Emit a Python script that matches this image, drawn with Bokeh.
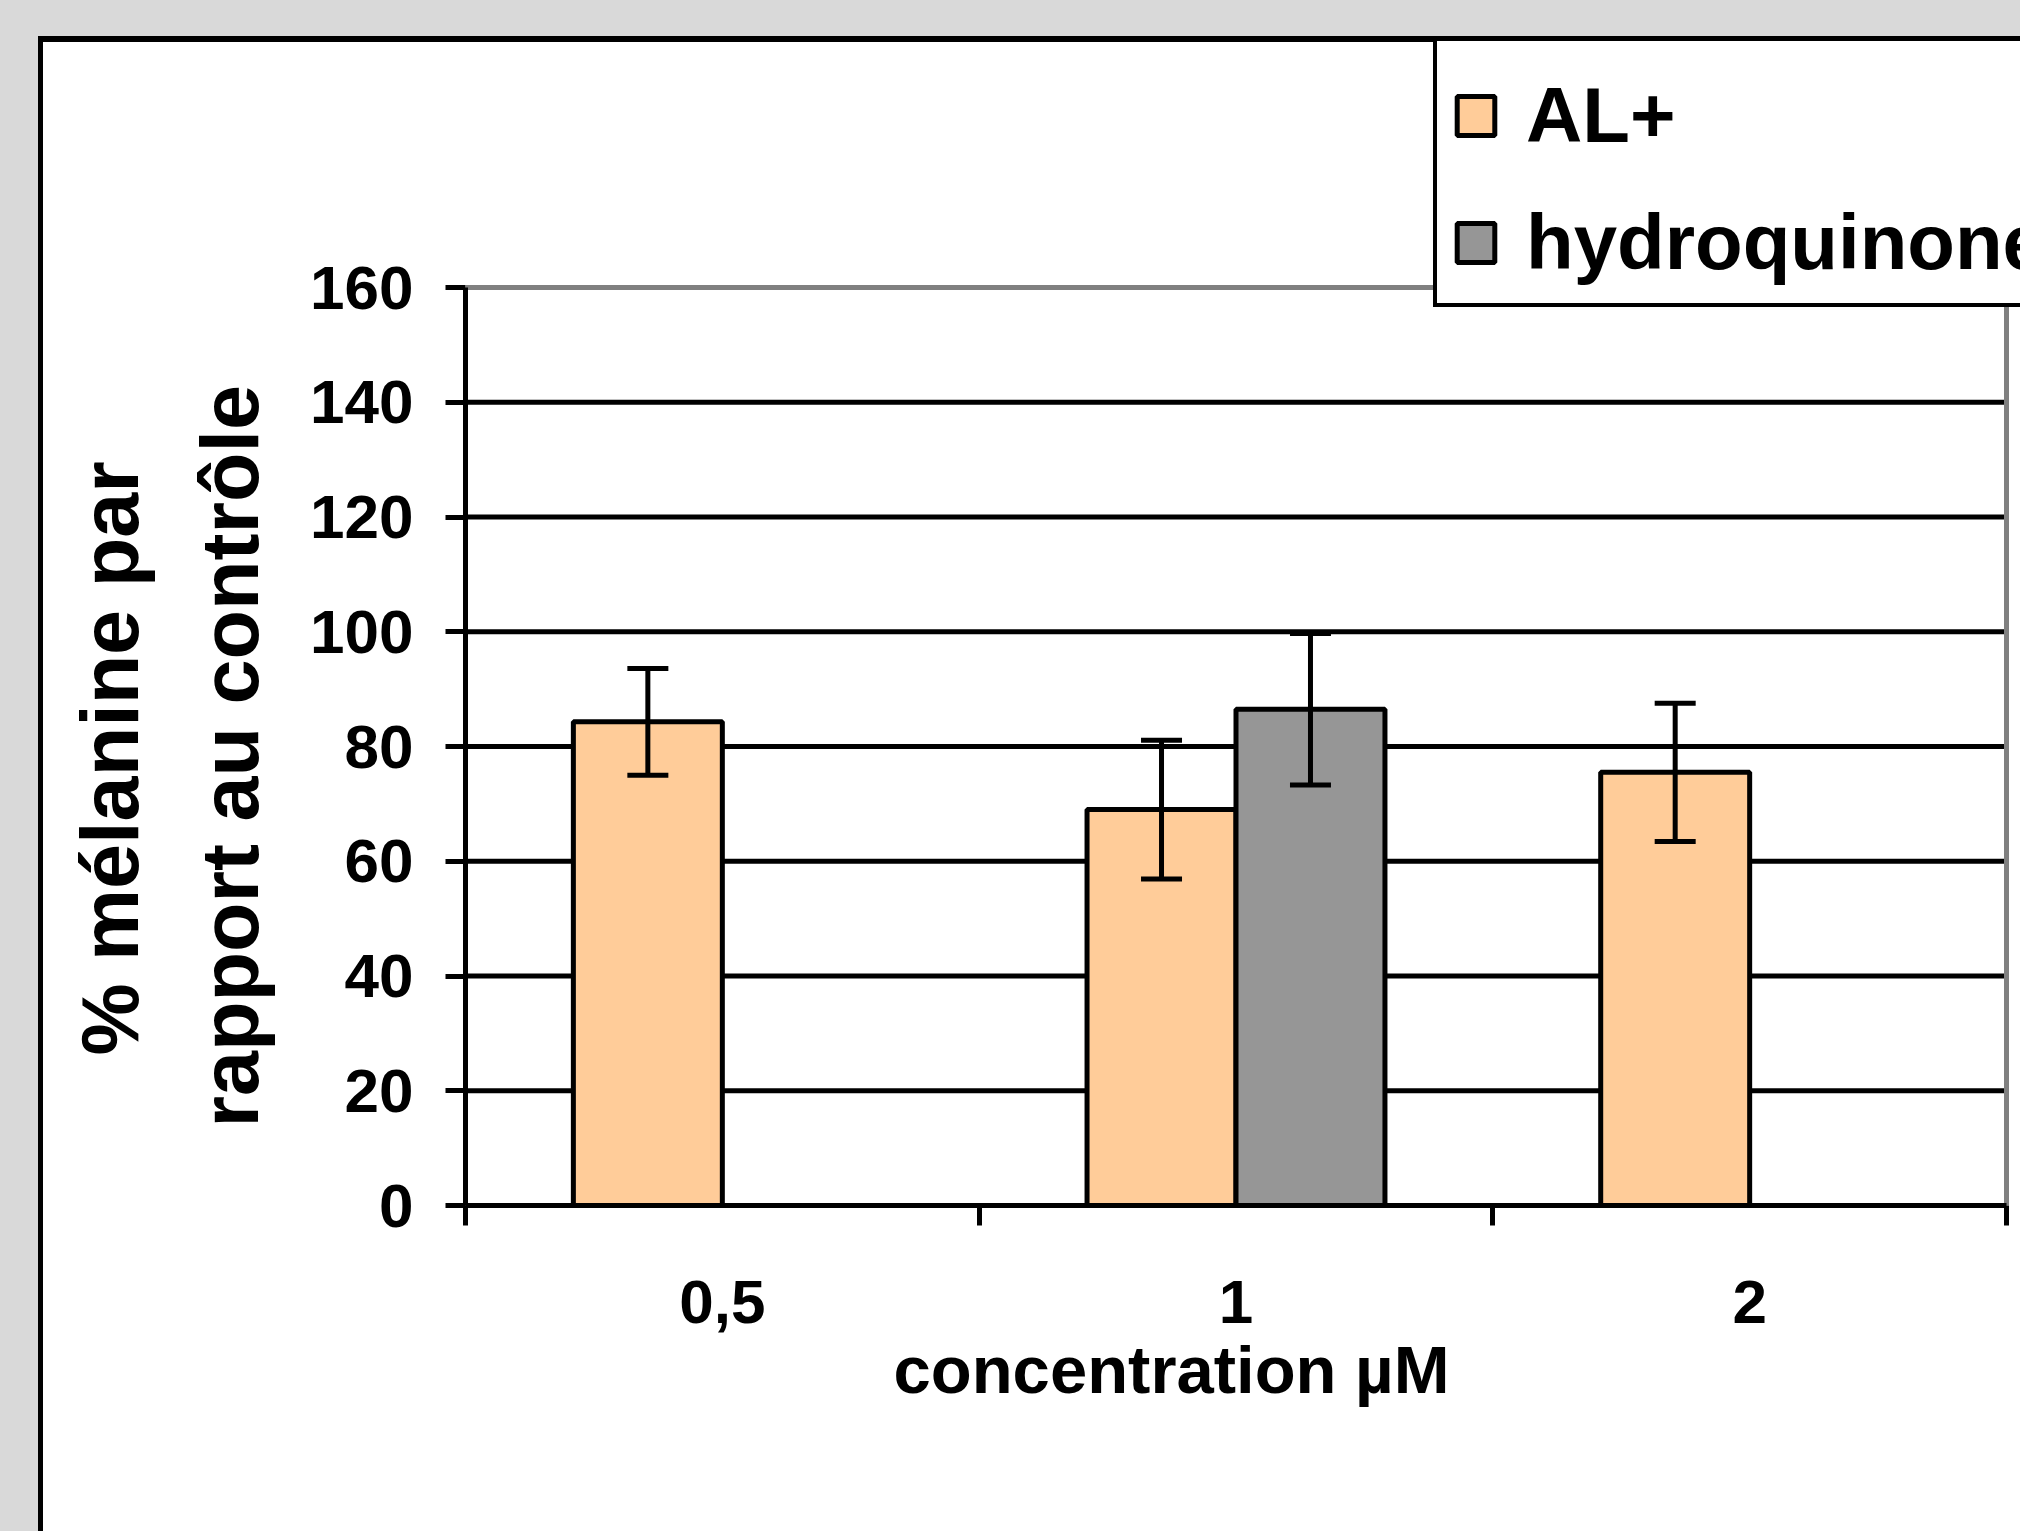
import numpy as np
from bokeh.plotting import figure
from bokeh.models import (ColumnDataSource, Range1d, FixedTicker, Whisker, TeeHead, Title)
from bokeh.embed import file_html
from bokeh.resources import INLINE

# ---------------- data ----------------
categories = ["0,5", "1", "2"]
series_names = ["AL+", "hydroquinone"]
al_mean = [84.3, 69.0, 75.5]
al_err = [9.3, 12.1, 12.05]
hq_mean = [float("nan"), 86.5, float("nan")]
hq_err = [float("nan"), 13.2, float("nan")]
y_ticks = [0, 20, 40, 60, 80, 100, 120, 140, 160]
x_title = "concentration µM"
y_title_lines = ["% mélanine par", "rapport au contrôle"]

# ---------------- styling / layout ----------------
FONT = "Liberation Sans"
AL_COLOR = "#FFCC99"
HQ_COLOR = "#969696"
BG_GRAY = "#d9d9d9"
BAR_W = 0.29

W, H = 2020, 1531
PLOT_LEFT, PLOT_RIGHT = 465, 2006      # pixel extent of the plot area
PLOT_TOP, PLOT_BOTTOM = 287, 1205

n_cat = len(categories)
y_lo, y_hi = y_ticks[0], y_ticks[-1]
px_per_y = (PLOT_BOTTOM - PLOT_TOP) / (y_hi - y_lo)
px_per_x = (PLOT_RIGHT - PLOT_LEFT) / n_cat
# frame is extended up to the canvas top and to the canvas right so the legend is not clipped
y_end = y_hi + PLOT_TOP / px_per_y
x_end = n_cat + (W - PLOT_RIGHT) / px_per_x

centers = np.arange(n_cat) + 0.5
boundaries = np.arange(n_cat + 1)


def series_source(means, errs, offset):
    m = np.array(means, dtype=float)
    e = np.array(errs, dtype=float)
    keep = ~np.isnan(m)
    return ColumnDataSource(dict(
        x=centers[keep] + offset,
        top=m[keep],
        upper=m[keep] + e[keep],
        lower=m[keep] - e[keep],
    ))


al_src = series_source(al_mean, al_err, -BAR_W / 2)
hq_src = series_source(hq_mean, hq_err, BAR_W / 2)

css_bg = (
    f"linear-gradient(to bottom, {BG_GRAY} 0px, {BG_GRAY} 36px, transparent 36px), "
    f"linear-gradient(to right, {BG_GRAY} 0px, {BG_GRAY} 38px, transparent 38px), "
    "linear-gradient(to bottom, #000000 0px, #000000 42px, transparent 42px), "
    "linear-gradient(to right, #000000 0px, #000000 43px, transparent 43px)"
)

p = figure(width=W, height=H, title=None,
           x_range=Range1d(0, x_end), y_range=Range1d(y_lo, y_end),
           output_backend="svg", toolbar_location=None,
           min_border_left=PLOT_LEFT, min_border_right=0, min_border_top=0,
           min_border_bottom=H - PLOT_BOTTOM,
           background_fill_alpha=0, border_fill_alpha=0,
           outline_line_color=None,
           styles={"background-color": "white", "background-image": css_bg})

# grid lines (black) between the axis and the top border
grid_y = y_ticks[1:-1]
p.segment(x0=[0] * len(grid_y), x1=[n_cat] * len(grid_y), y0=grid_y, y1=grid_y,
          line_color="black", line_width=5)
# gray top and right border of the plot area
p.line(x=[0, n_cat, n_cat], y=[y_hi, y_hi, y_lo], line_color="#808080", line_width=5)

# bars
p.vbar(x="x", top="top", bottom=0, width=BAR_W, source=al_src,
       fill_color=AL_COLOR, line_color="black", line_width=5, legend_label=series_names[0])
p.vbar(x="x", top="top", bottom=0, width=BAR_W, source=hq_src,
       fill_color=HQ_COLOR, line_color="black", line_width=5, legend_label=series_names[1])

# error bars
for src in (al_src, hq_src):
    w = Whisker(source=src, base="x", upper="upper", lower="lower",
                line_color="black", line_width=5, level="annotation",
                upper_head=TeeHead(size=41, line_color="black", line_width=5),
                lower_head=TeeHead(size=41, line_color="black", line_width=5))
    p.add_layout(w)

p.xgrid.visible = False
p.ygrid.visible = False

# y axis
ya = p.yaxis[0]
ya.ticker = FixedTicker(ticks=y_ticks)
ya.bounds = (y_lo, y_hi)
ya.axis_line_color = "black"
ya.axis_line_width = 5
ya.major_tick_line_color = "black"
ya.major_tick_line_width = 5
ya.major_tick_out = 20
ya.major_tick_in = 0
ya.minor_tick_out = 0
ya.minor_tick_in = 0
ya.major_label_standoff = 32
ya.major_label_text_font = FONT
ya.major_label_text_font_style = "bold"
ya.major_label_text_font_size = "62px"
ya.major_label_text_color = "black"

# x axis: labels at category centres, tick marks at category boundaries
xa = p.xaxis[0]
xa.ticker = FixedTicker(ticks=list(centers), minor_ticks=list(boundaries))
xa.bounds = (0, n_cat)
xa.major_label_overrides = {float(c): lab for c, lab in zip(centers, categories)}
xa.axis_line_color = "black"
xa.axis_line_width = 5
xa.major_tick_out = 0
xa.major_tick_in = 0
xa.minor_tick_out = 20
xa.minor_tick_in = 0
xa.minor_tick_line_color = "black"
xa.minor_tick_line_width = 5
xa.major_label_standoff = 55
xa.major_label_text_font = FONT
xa.major_label_text_font_style = "bold"
xa.major_label_text_font_size = "62px"
xa.major_label_text_color = "black"

# axis titles as Title annotations (positioned relative to the plot area)
p.add_layout(Title(text=x_title, align="left", offset=428, vertical_align="top",
                   text_font=FONT, text_font_style="bold", text_font_size="67px",
                   text_color="black", standoff=12), "below")
p.add_layout(Title(text=y_title_lines[1], align="left", offset=78, vertical_align="bottom",
                   text_font=FONT, text_font_style="bold", text_font_size="81px",
                   text_color="black", standoff=65), "left")
p.add_layout(Title(text=y_title_lines[0], align="left", offset=150, vertical_align="bottom",
                   text_font=FONT, text_font_style="bold", text_font_size="81px",
                   text_color="black", standoff=-9), "left")

# legend
lg = p.legend[0]
lg.location = (1433 - PLOT_LEFT, PLOT_BOTTOM - 307)
lg.orientation = "vertical"
lg.title = " "
lg.title_text_font_size = "10px"
lg.title_standoff = 3
lg.border_line_color = "black"
lg.border_line_alpha = 1.0
lg.border_line_width = 4
lg.background_fill_color = "white"
lg.background_fill_alpha = 1.0
lg.label_text_font = FONT
lg.label_text_font_style = "bold"
lg.label_text_font_size = "78px"
lg.label_text_color = "black"
lg.glyph_width = 47
lg.glyph_height = 49
lg.label_standoff = 27
lg.padding = 15
lg.spacing = 36
lg.margin = 0

open("out.html", "w").write(file_html(p, INLINE))
